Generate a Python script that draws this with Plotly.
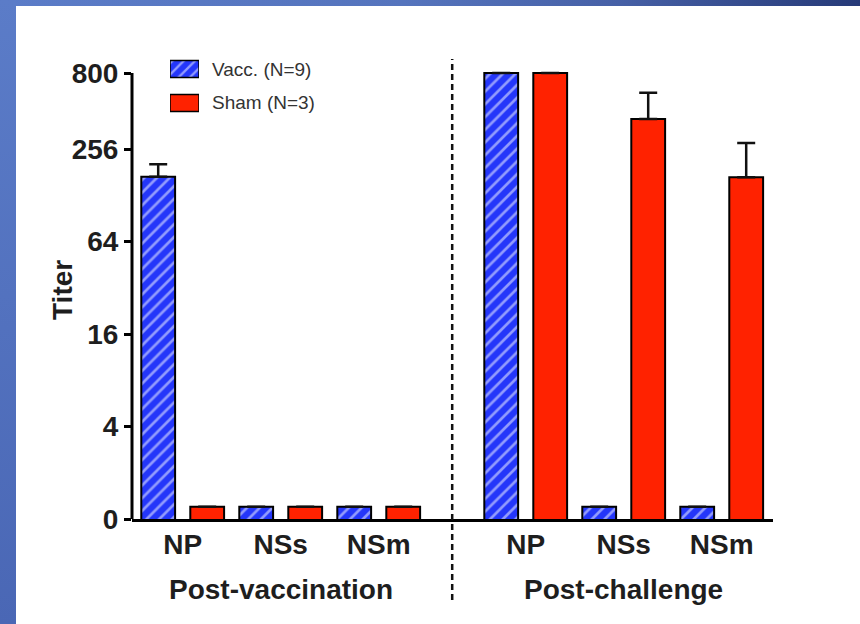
import math
import base64
import plotly.graph_objects as go

# ---- data ----
antigens = ["NP", "NSs", "NSm"]
phases = ["Post-vaccination", "Post-challenge"]
vacc_titer = [169, 1.2, 1.2, 800, 1.2, 1.2]
vacc_sem = [35, None, None, None, None, None]
sham_titer = [1.2, 1.2, 1.2, 800, 402, 168]
sham_sem = [None, None, None, None, 194, 112]
y_tick_vals = [1, 4, 16, 64, 256, 800]
y_tick_text = ["0", "4", "16", "64", "256", "800"]
legend_names = ["Vacc. (N=9)", "Sham (N=3)"]

# ---- layout geometry (pixels) ----
W, H = 860, 624
PL, PR, PT, PB = 132, 773, 50, 519   # plot area edges
phase_gap = 1.5                       # spacing between the two phase blocks

x_pos = []
for p in range(len(phases)):
    for i in range(len(antigens)):
        x_pos.append(p * (len(antigens) - 1 + phase_gap) + i)
tick_labels = antigens * len(phases)


def px_x(px):
    return (px - PL) / (PR - PL)


def px_y(py):
    return (PB - py) / (PB - PT)


BLUE = "#2436fa"
RED = "#ff2200"
TXT = "#1e1e1e"
FONT = "Liberation Sans, Arial, sans-serif"

fig = go.Figure()

fig.add_bar(
    x=x_pos, y=vacc_titer, name=legend_names[0], showlegend=False,
    marker=dict(color=BLUE, line=dict(color="black", width=2),
                pattern=dict(shape="/", fgcolor="white", fillmode="overlay",
                             size=9, solidity=0.3)),
    error_y=dict(type="data", array=vacc_sem, symmetric=False,
                 arrayminus=[0] * len(vacc_sem),
                 color="#111", thickness=2.5, width=9),
)
fig.add_bar(
    x=x_pos, y=sham_titer, name=legend_names[1], showlegend=False,
    marker=dict(color=RED, line=dict(color="black", width=2)),
    error_y=dict(type="data", array=sham_sem, symmetric=False,
                 arrayminus=[0] * len(sham_sem),
                 color="#111", thickness=2.5, width=9),
)

# legend swatches drawn as bars in a small inset axis
fig.add_bar(
    x=[1], y=[1.5], base=[0], orientation="h", width=0.5, offset=-0.25,
    xaxis="x2", yaxis="y2", showlegend=False, hoverinfo="skip",
    marker=dict(color=BLUE, line=dict(color="black", width=1.5),
                pattern=dict(shape="/", fgcolor="white", fillmode="overlay",
                             size=8, solidity=0.3)),
)
fig.add_bar(
    x=[1], y=[0.5], base=[0], orientation="h", width=0.5, offset=-0.25,
    xaxis="x2", yaxis="y2", showlegend=False, hoverinfo="skip",
    marker=dict(color=RED, line=dict(color="black", width=1.5)),
)

x_lo = (PL - 182.7) / 98.0
x_hi = (PR - 182.7) / 98.0
decade_px = (PB - 73) / math.log10(800)
y_top = math.log10(800) + (73 - PT) / decade_px

# blue slide frame (left and top strips) as an SVG gradient image
frame_svg = f"""<svg xmlns='http://www.w3.org/2000/svg' width='{W}' height='{H}' viewBox='0 0 {W} {H}'>
<defs>
<linearGradient id='gt' x1='0' y1='0' x2='1' y2='0'>
<stop offset='0' stop-color='#5b7cc8'/><stop offset='0.47' stop-color='#5574bd'/>
<stop offset='0.72' stop-color='#4660a6'/><stop offset='1' stop-color='#263a78'/>
</linearGradient>
<linearGradient id='gl' x1='0' y1='0' x2='0' y2='1'>
<stop offset='0' stop-color='#5b7cc8'/><stop offset='1' stop-color='#4a67b5'/>
</linearGradient>
</defs>
<rect x='0' y='0' width='{W}' height='6' fill='url(#gt)'/>
<rect x='0' y='0' width='16' height='{H}' fill='url(#gl)'/>
</svg>"""
frame_src = "data:image/svg+xml;base64," + base64.b64encode(frame_svg.encode()).decode()

shapes = []
# y axis spine from the bottom tick to the top tick
shapes.append(dict(type="line", xref="paper", yref="y", x0=0, x1=0,
                   y0=y_tick_vals[0], y1=y_tick_vals[-1],
                   line=dict(color="black", width=3)))
# divider between the two phases
div_x = (x_pos[len(antigens) - 1] + x_pos[len(antigens)]) / 2
shapes.append(dict(type="line", xref="x", yref="paper", x0=div_x, x1=div_x,
                   y0=px_y(600), y1=px_y(59),
                   line=dict(color="#111", width=2.5, dash="6px,4px")))

annotations = []
for p, name in enumerate(phases):
    xs = x_pos[p * len(antigens):(p + 1) * len(antigens)]
    annotations.append(dict(text=name, x=sum(xs) / len(xs), xref="x",
                            y=px_y(589), yref="paper", showarrow=False,
                            xanchor="center", yanchor="middle",
                            font=dict(family=FONT, size=28, color=TXT, weight="bold")))
annotations.append(dict(text="Titer", x=px_x(62), y=px_y(290), xref="paper",
                        yref="paper", showarrow=False, textangle=-90,
                        xanchor="center", yanchor="middle",
                        font=dict(family=FONT, size=28, color=TXT, weight="bold")))
for name, py in zip(legend_names, [69, 103]):
    annotations.append(dict(text=name, x=px_x(210), y=px_y(py), xref="paper",
                            yref="paper", showarrow=False, xanchor="left",
                            yanchor="middle",
                            font=dict(family=FONT, size=19, color="#333")))

fig.update_layout(
    width=W, height=H,
    margin=dict(l=PL, r=W - PR, t=PT, b=H - PB, pad=0),
    paper_bgcolor="white", plot_bgcolor="white",
    barmode="group", bargap=0, bargroupgap=0.31,
    showlegend=False,
    shapes=shapes, annotations=annotations,
    images=[dict(source=frame_src, xref="paper", yref="paper",
                 x=px_x(0), y=px_y(0), sizex=W / (PR - PL), sizey=H / (PB - PT),
                 xanchor="left", yanchor="top", sizing="stretch", layer="below")],
    xaxis=dict(range=[x_lo, x_hi], tickvals=x_pos, ticktext=tick_labels,
               showline=True, linecolor="black", linewidth=3, ticks="",
               showgrid=False, zeroline=False, ticklabelstandoff=-2,
               tickfont=dict(family=FONT, size=28, color=TXT, weight="bold")),
    yaxis=dict(type="log", range=[0, y_top], tickvals=y_tick_vals,
               ticktext=y_tick_text, showline=False, ticks="outside",
               ticklen=7, tickwidth=3, tickcolor="black", showgrid=False,
               zeroline=False,
               tickfont=dict(family=FONT, size=28, color=TXT, weight="bold")),
    xaxis2=dict(domain=[px_x(170), px_x(199)], anchor="y2", range=[0, 1],
                visible=False, fixedrange=True),
    yaxis2=dict(domain=[px_y(120), px_y(52)], anchor="x2", range=[0, 2],
                visible=False, fixedrange=True),
)

fig.write_html("out.html")
